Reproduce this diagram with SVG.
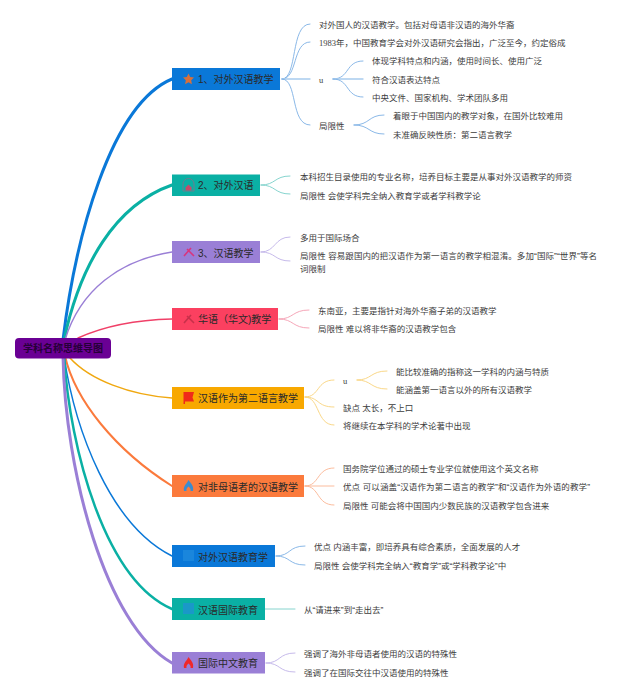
<svg xmlns="http://www.w3.org/2000/svg" width="640" height="696" viewBox="0 0 640 696">
<style>
text{font-family:"Liberation Sans","Noto Sans CJK SC",sans-serif;}
.t{font-size:10px;fill:#2a2a2a;dominant-baseline:central}
.l{font-size:8.5px;fill:#3c3c3c;dominant-baseline:central}
.s{font-family:"Liberation Serif","Noto Sans CJK SC",serif}
.r{font-size:10px;fill:#260038;dominant-baseline:central;text-anchor:middle;font-weight:bold}
#connectors path{fill:none;stroke-linecap:round}
.th{stroke-width:.9}
</style>
<rect width="640" height="696" fill="#fff"/>
<g id="connectors">
<path d="M63 340C75 240 110 105 172 79" stroke="#0a78d8" stroke-width="3"/>
<path d="M64 340C80 265 115 205 172 185" stroke="#0ab0a4" stroke-width="3"/>
<path d="M65 340C80 290 120 260 172 252" stroke="#9a7fd6" stroke-width="1.500"/>
<path d="M78 338C100 328 130 320 172 319" stroke="#f04068" stroke-width="1.500"/>
<path d="M70 358C90 380 130 395 172 398" stroke="#f0a810" stroke-width="1.500"/>
<path d="M65 356C75 400 115 450 172 486" stroke="#fb7a3c" stroke-width="2"/>
<path d="M64 356C75 430 110 525 172 556" stroke="#0a78d8" stroke-width="1.500"/>
<path d="M64 356C70 450 105 580 172 609" stroke="#0ab0a4" stroke-width="2.500"/>
<path d="M63 356C65 470 105 625 172 663" stroke="#9a7fd6" stroke-width="3"/>
<g stroke="#7db0e4" class="th">
<path d="M282 79C298 79 290 24 310 24"/>
<path d="M282 79C298 79 292 42 310 42"/>
<path d="M282 79H310" stroke="#a8cbee" stroke-width="1.300"/>
<path d="M282 79C298 79 290 125 310 125"/>
<path d="M333 79C350 79 345 61 363 61"/>
<path d="M333 79H363" stroke="#a8cbee" stroke-width="1.300"/>
<path d="M333 79C350 79 345 97 363 97"/>
<path d="M354 125C370 125 368 115 384 115"/>
<path d="M354 125C370 125 368 134 384 134"/>
</g>
<g stroke="#78cfc8" class="th">
<path d="M261 185C276 185 274 176 290 176"/>
<path d="M261 185C276 185 274 194 290 194"/>
</g>
<g stroke="#c0b2e8" class="th">
<path d="M261 252C276 252 274 237 290 237"/>
<path d="M261 252C276 252 274 261 290 261"/>
</g>
<g stroke="#f49cb0" class="th">
<path d="M279 319C294 319 292 310 309 310"/>
<path d="M279 319C294 319 292 328 309 328"/>
</g>
<g stroke="#f8d27a" class="th">
<path d="M305 397C320 397 316 380 334 380"/>
<path d="M305 397C320 397 316 407 334 407"/>
<path d="M305 397C320 397 316 425 334 425"/>
<path d="M357 380C372 380 370 371 387 371"/>
<path d="M357 380C372 380 370 389 387 389"/>
</g>
<g stroke="#fbb492" class="th">
<path d="M305 486C320 486 316 468 334 468"/>
<path d="M305 486H334"/>
<path d="M305 486C320 486 316 505 334 505"/>
</g>
<g stroke="#7db0e4" class="th">
<path d="M276 556C291 556 288 546 305 546"/>
<path d="M276 556C291 556 288 565 305 565"/>
</g>
<path d="M265 609H295" stroke="#78cfc8" class="th"/>
<g stroke="#c0b2e8" class="th">
<path d="M266 663C281 663 278 653 295 653"/>
<path d="M266 663C281 663 278 672 295 672"/>
</g>
</g>
<g id="root">
<rect x="15" y="338" width="96" height="20.500" rx="4" fill="#6a0094"/>
<text class="r" x="63" y="348.500">学科名称思维导图</text>
</g>
<g id="n1">
<rect x="172" y="68" width="108" height="22" fill="#0a78d8"/>
<path d="M188.500 73.500l1.700 3.600 3.800.5-2.800 2.700.7 3.900-3.400-1.900-3.400 1.900.7-3.900-2.800-2.700 3.800-.5z" fill="#d8703a"/>
<text class="t" x="198" y="79.500">1、对外汉语教学</text>
<g class="l"><text x="319" y="25">对外国人的汉语教学。包括对母语非汉语的海外华裔</text>
<text x="319" y="43"><tspan class="s">1983</tspan>年，中国教育学会对外汉语研究会指出，广泛至今，约定俗成</text>
<text x="319" y="80" class="s">u</text>
<text x="372" y="61">体现学科特点和内涵，使用时间长、使用广泛</text>
<text x="372" y="79.500">符合汉语表达特点</text>
<text x="372" y="98">中央文件、国家机构、学术团队多用</text>
<text x="319" y="125.500">局限性</text>
<text x="393" y="116">着眼于中国国内的教学对象，在国外比较难用</text>
<text x="393" y="134.500">未准确反映性质：第二语言教学</text></g>
</g>
<g id="n2">
<rect x="172" y="174.500" width="88" height="21.500" fill="#0ab0a4"/>
<path d="M183 191v-7a5.500 5.500 0 0 1 11 0v7z" fill="none" stroke="#6e7c90" stroke-width="1"/>
<path d="M188.500 184.500l3 3v3h-6v-3z" fill="#c84a6a"/>
<text class="t" x="198" y="185.500">2、对外汉语</text>
<g class="l"><text x="300" y="177">本科招生目录使用的专业名称，培养目标主要是从事对外汉语教学的师资</text>
<text x="300" y="195.500">局限性 会使学科完全纳入教育学或者学科教学论</text></g>
</g>
<g id="n3">
<rect x="172" y="241" width="88" height="22" fill="#9a7fd6"/>
<path d="M184 256l7-8M187 249l7 7" stroke="#d8357e" stroke-width="1.600" fill="none"/>
<text class="t" x="198" y="253">3、汉语教学</text>
<g class="l"><text x="300" y="238">多用于国际场合</text>
<text x="300" y="256" textLength="297">局限性 容易跟国内的把汉语作为第一语言的教学相混淆。多加“国际”“世界”等名</text>
<text x="300" y="268.500">词限制</text></g>
</g>
<g id="n4">
<rect x="172" y="308" width="106" height="22" fill="#fb4060"/>
<path d="M184 323l7-8M187 316l7 7" stroke="#c8304a" stroke-width="1.600" fill="none"/>
<text class="t" x="198" y="319.500">华语（华文)教学</text>
<g class="l"><text x="318" y="310.500">东南亚，主要是指针对海外华裔子弟的汉语教学</text>
<text x="318" y="329">局限性 难以将非华裔的汉语教学包含</text></g>
</g>
<g id="n5">
<rect x="172" y="387" width="132" height="22" fill="#f8a800"/>
<path d="M183.500 404V392H194l-1.500 5.500 1.500 4H185V404z" fill="#f02a1a"/>
<text class="t" x="198" y="398.500">汉语作为第二语言教学</text>
<g class="l"><text x="343" y="381" class="s">u</text>
<text x="396" y="371.500">能比较准确的指称这一学科的内涵与特质</text>
<text x="396" y="389.500">能涵盖第一语言以外的所有汉语教学</text>
<text x="343" y="408">缺点 太长，不上口</text>
<text x="343" y="426">将继续在本学科的学术论著中出现</text></g>
</g>
<g id="n6">
<rect x="172" y="475" width="132" height="22" fill="#fb7a3c"/>
<path d="M184 491c-1-5 2-6 4.500-11 3 4 5.500 6 4.500 11h-2.500c.5-2-.5-3-2-4.500-1.500 1.500-2.500 2.500-2 4.500z" fill="#3a8cd0"/>
<text class="t" x="198" y="487">对非母语者的汉语教学</text>
<g class="l"><text x="343" y="469">国务院学位通过的硕士专业学位就使用这个英文名称</text>
<text x="343" y="487" textLength="247">优点 可以涵盖“汉语作为第二语言的教学”和“汉语作为外语的教学”</text>
<text x="343" y="505.500">局限性 可能会将中国国内少数民族的汉语教学包含进来</text></g>
</g>
<g id="n7">
<rect x="172" y="545" width="103" height="22" fill="#0a78d8"/>
<rect x="183" y="550" width="11" height="11" fill="#1a86dc"/>
<text class="t" x="198" y="557">对外汉语教育学</text>
<g class="l"><text x="314" y="547">优点 内涵丰富，即培养具有综合素质，全面发展的人才</text>
<text x="314" y="565.500">局限性 会使学科完全纳入“教育学”或“学科教学论”中</text></g>
</g>
<g id="n8">
<rect x="172" y="598" width="93" height="22" fill="#0ab0a4"/>
<rect x="183" y="603" width="11" height="11" fill="#1a98c8"/>
<text class="t" x="198" y="610">汉语国际教育</text>
<text class="l" x="304" y="610">从“请进来”到“走出去”</text>
</g>
<g id="n9">
<rect x="172" y="652" width="93" height="21.500" fill="#9a7fd6"/>
<path d="M184 668c-1-5 2-6 4.500-11 3 4 5.500 6 4.500 11h-2.500c.5-2-.5-3-2-4.500-1.500 1.500-2.500 2.500-2 4.500z" fill="#f0282a"/>
<text class="t" x="198" y="663.500">国际中文教育</text>
<g class="l"><text x="304" y="654">强调了海外非母语者使用的汉语的特殊性</text>
<text x="304" y="672.500">强调了在国际交往中汉语使用的特殊性</text></g>
</g>
</svg>
